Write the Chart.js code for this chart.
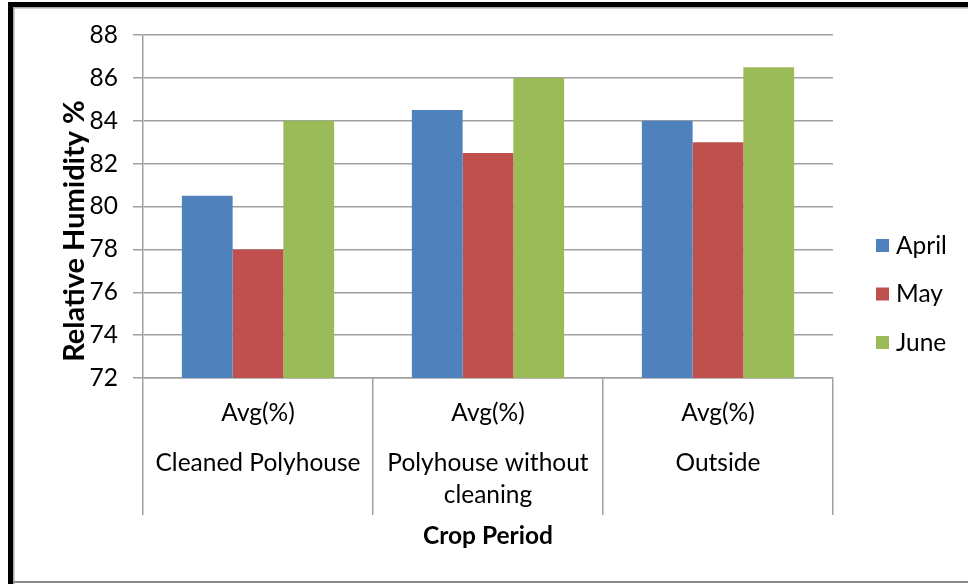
<!DOCTYPE html>
<html>
<head>
<meta charset="utf-8">
<script src="https://cdn.jsdelivr.net/npm/chart.js@4/dist/chart.umd.min.js"></script>
<style>
  html, body { margin: 0; padding: 0; background: #fff; }
  #wrap { position: relative; width: 968px; height: 584px; }
  canvas { display: block; }
</style>
</head>
<body>
<div id="wrap"><canvas id="chart" width="968" height="584"></canvas></div>
<script>
// Relative humidity by crop period, monthly averages
const groupNames = [["Cleaned Polyhouse"], ["Polyhouse without", "cleaning"], ["Outside"]];
const subLabel = "Avg(%)";
const months = ["April", "May", "June"];
const aprilValues = [80.5, 84.5, 84];
const mayValues = [78, 82.5, 83];
const juneValues = [84, 86, 86.5];
const yTicks = [72, 74, 76, 78, 80, 82, 84, 86, 88];

const colors = ["#4F81BD", "#C0504D", "#9BBB59"];
const gridColor = "#a0a0a0";
const FONT = "Lato, 'Open Sans', sans-serif";

// Frame around the figure plus the custom category and legend text
const framePlugin = {
  id: "frame",
  beforeDraw(chart) {
    const ctx = chart.ctx;
    ctx.save();
    ctx.fillStyle = "#ffffff";
    ctx.fillRect(0, 0, chart.width, chart.height);
    ctx.fillStyle = "#000000";
    ctx.fillRect(8, 2, chart.width - 8, 5);
    ctx.fillRect(8, 2, 5, chart.height - 2);
    ctx.fillStyle = "#a8a8a8";
    ctx.fillRect(13, 7, chart.width - 13, 1.5);
    ctx.fillRect(13, 7, 1.5, chart.height - 7);
    ctx.fillStyle = "#8c8c8c";
    ctx.fillRect(13, 581, chart.width - 13, 2);
    ctx.restore();
  },
  afterDraw(chart) {
    const ctx = chart.ctx;
    const xs = chart.scales.x;
    const area = chart.chartArea;
    ctx.save();
    ctx.fillStyle = "#000000";
    ctx.textAlign = "center";
    ctx.textBaseline = "middle";
    ctx.font = "24.5px " + FONT;
    groupNames.forEach((lines, i) => {
      const cx = xs.getPixelForValue(i);
      ctx.fillText(subLabel, cx, 413);
      lines.forEach((ln, j) => ctx.fillText(ln, cx, 463 + j * 32));
    });
    // axis titles
    ctx.font = "bold 24.5px " + FONT;
    ctx.fillText("Crop Period", (area.left + area.right) / 2, 536);
    ctx.save();
    ctx.translate(75, 231);
    ctx.rotate(-Math.PI / 2);
    ctx.font = "bold 29px " + FONT;
    ctx.fillText("Relative Humidity %", 0, 0);
    ctx.restore();
    // legend
    ctx.font = "24.5px " + FONT;
    ctx.textAlign = "left";
    chart.data.datasets.forEach((ds, i) => {
      const cy = 245 + i * 48.5;
      ctx.fillStyle = ds.backgroundColor;
      ctx.fillRect(876, cy - 6, 13, 13);
      ctx.fillStyle = "#000000";
      ctx.fillText(ds.label, 896, cy + 1);
    });
    ctx.restore();
  }
};

new Chart(document.getElementById("chart"), {
  type: "bar",
  data: {
    labels: groupNames.map(g => g.join(" ")),
    datasets: [
      { label: months[0], data: aprilValues, backgroundColor: colors[0] },
      { label: months[1], data: mayValues, backgroundColor: colors[1] },
      { label: months[2], data: juneValues, backgroundColor: colors[2] }
    ]
  },
  plugins: [framePlugin],
  options: {
    responsive: false,
    animation: false,
    devicePixelRatio: 1,
    layout: { padding: { left: 0, right: 135, top: 35, bottom: 0 } },
    datasets: {
      bar: { categoryPercentage: 0.662, barPercentage: 1.0, borderWidth: 0 }
    },
    plugins: {
      legend: { display: false },
      tooltip: { enabled: false },
      title: { display: false }
    },
    scales: {
      x: {
        offset: true,
        ticks: { display: false },
        grid: {
          offset: true,
          drawOnChartArea: false,
          drawTicks: true,
          tickLength: 137,
          color: gridColor,
          lineWidth: 1.5
        },
        border: { display: true, color: gridColor, width: 1.5 },
        afterFit(scale) { scale.height = 206; }
      },
      y: {
        min: 72,
        max: 88,
        afterBuildTicks(scale) { scale.ticks = yTicks.map(v => ({ value: v })); },
        ticks: {
          padding: 15,
          color: "#000000",
          font: { family: FONT, size: 24.5 }
        },
        grid: { color: gridColor, lineWidth: 1.5, tickLength: 10 },
        border: { display: true, color: gridColor, width: 1.5 },
        afterFit(scale) { scale.width = 143; }
      }
    }
  }
});
</script>
</body>
</html>
